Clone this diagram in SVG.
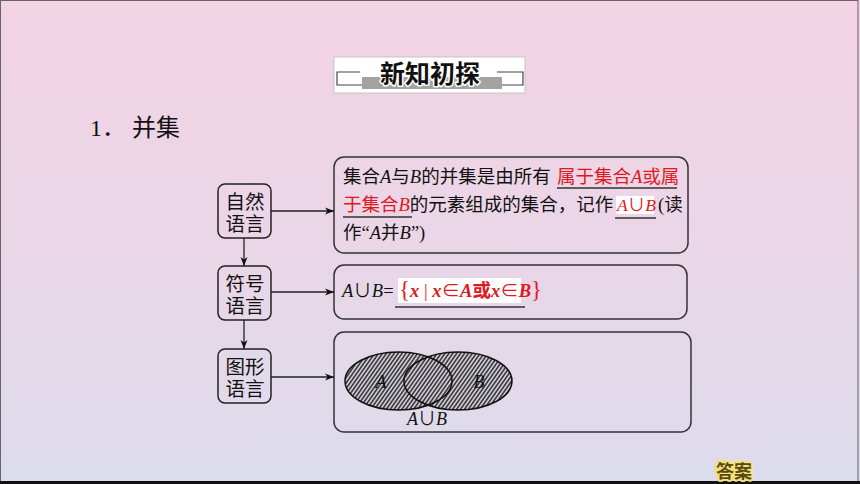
<svg xmlns="http://www.w3.org/2000/svg" width="860" height="484" viewBox="0 0 860 484">
<defs>
<linearGradient id="bg" x1="0" y1="0" x2="0" y2="1">
<stop offset="0" stop-color="#f3d3e4"/>
<stop offset="0.5" stop-color="#ead6e7"/>
<stop offset="1" stop-color="#dcdcec"/>
</linearGradient>
<pattern id="hatch" width="3.2" height="3.2" patternUnits="userSpaceOnUse" patternTransform="rotate(35)">
<rect width="3.2" height="3.2" fill="#cdc9d2"/>
<line x1="0.8" y1="0" x2="0.8" y2="3.2" stroke="#1e1e1e" stroke-width="1.3"/>
</pattern>
<marker id="arr" markerWidth="10" markerHeight="8" refX="9" refY="4" orient="auto" markerUnits="userSpaceOnUse">
<path d="M0,0.5 L9,4 L0,7.5 L2.5,4 Z" fill="#111"/>
</marker>
<style>
.cjk{font-family:"Noto Sans CJK SC","Noto Sans",sans-serif;}
.ser{font-family:"Liberation Serif","Noto Sans CJK SC",serif;}
.it{font-family:"Liberation Serif",serif;font-style:italic;}
.lnode{fill:none;stroke:#222;stroke-width:1.5;}
.rnode{fill:none;stroke:#333;stroke-width:1.5;}
.conn{stroke:#222;stroke-width:1.3;fill:none;marker-end:url(#arr);}
.ul{stroke:#333;stroke-width:1.3;}
.lbl{font-size:19.5px;fill:#111;text-anchor:middle;}
.body{font-size:18.5px;fill:#111;}
.red{fill:#e01820;}
</style>
</defs>
<rect x="0" y="0" width="860" height="484" fill="url(#bg)"/>
<rect x="0.5" y="0.5" width="857.5" height="481" fill="none" stroke="#666" stroke-width="1"/>
<rect x="0" y="481" width="860" height="3" fill="#111"/>

<g id="header">
<rect x="334" y="57" width="191" height="36" fill="#ffffff" stroke="#bbb" stroke-width="0.8"/>
<rect x="362" y="77" width="140" height="12" fill="#a3a3a3"/>
<path d="M360,72 H337 V85 H362" fill="none" stroke="#444" stroke-width="1.2"/>
<path d="M497,72 H523 V85 H502" fill="none" stroke="#444" stroke-width="1.2"/>
<text x="430" y="83" class="cjk" font-size="25" font-weight="bold" text-anchor="middle" fill="#111" stroke="#fff" stroke-width="3" paint-order="stroke" stroke-linejoin="round">新知初探</text>
</g>

<g id="title">
<text y="136" font-size="24" fill="#111"><tspan x="90" class="ser">1</tspan><tspan class="cjk">．</tspan><tspan x="132" class="cjk">并集</tspan></text>
</g>

<g id="node-natural">
<rect x="218" y="184" width="53" height="54" rx="7" class="lnode"/>
<text class="cjk lbl" x="245" y="209">自然</text>
<text class="cjk lbl" x="245" y="231">语言</text>
</g>
<g id="node-symbol">
<rect x="218" y="266" width="53" height="54" rx="7" class="lnode"/>
<text class="cjk lbl" x="245" y="291">符号</text>
<text class="cjk lbl" x="245" y="313">语言</text>
</g>
<g id="node-graphic">
<rect x="218" y="349" width="53" height="54" rx="7" class="lnode"/>
<text class="cjk lbl" x="245" y="374">图形</text>
<text class="cjk lbl" x="245" y="396">语言</text>
</g>

<g id="box-natural">
<rect x="334" y="157" width="354" height="96" rx="10" class="rnode"/>
<text class="body" y="183"><tspan x="343" class="cjk">集合</tspan><tspan class="it">A</tspan><tspan class="cjk">与</tspan><tspan class="it">B</tspan><tspan class="cjk">的并集是由所有</tspan><tspan x="557" class="cjk red">属于集合</tspan><tspan class="it red">A</tspan><tspan class="cjk red">或属</tspan></text>
<line x1="557" y1="188" x2="677" y2="188" class="ul"/>
<rect x="616" y="196" width="38" height="18" fill="#fff"/>
<text class="body" y="211"><tspan x="343" class="cjk red">于集合</tspan><tspan class="it red">B</tspan><tspan class="cjk">的元素组成的集合，记作</tspan><tspan x="617" class="it red" font-size="17.5">A</tspan><tspan class="ser red" font-size="17.5">∪</tspan><tspan class="it red" font-size="17.5">B</tspan><tspan x="658" class="ser">(</tspan><tspan class="cjk">读</tspan></text>
<line x1="343" y1="217" x2="412" y2="217" class="ul"/>
<line x1="615" y1="218" x2="656" y2="218" class="ul"/>
<text class="body" y="239"><tspan x="343" class="cjk">作</tspan><tspan class="ser">“</tspan><tspan class="it">A</tspan><tspan class="cjk">并</tspan><tspan class="it">B</tspan><tspan class="ser">”)</tspan></text>
</g>

<g id="box-symbol">
<rect x="334" y="265" width="353" height="54" rx="10" class="rnode"/>
<text class="body" y="297"><tspan x="342" class="it">A</tspan><tspan class="ser">∪</tspan><tspan class="it">B</tspan><tspan class="ser">=</tspan></text>
<rect x="398" y="278" width="123" height="25" fill="#fff"/>
<text class="body red" y="297"><tspan x="399" class="ser red" font-size="23">{</tspan><tspan class="it red" font-weight="bold">x</tspan><tspan class="ser red"> | </tspan><tspan class="it red" font-weight="bold">x</tspan><tspan class="ser red">∈</tspan><tspan class="it red" font-weight="bold">A</tspan><tspan class="cjk red" font-weight="bold">或</tspan><tspan class="it red" font-weight="bold">x</tspan><tspan class="ser red">∈</tspan><tspan class="it red" font-weight="bold">B</tspan><tspan class="ser red" font-size="23">}</tspan></text>
<line x1="395" y1="307" x2="525" y2="307" class="ul"/>
</g>

<g id="box-graphic">
<rect x="334" y="332" width="357" height="100" rx="10" class="rnode"/>
<ellipse cx="398.5" cy="381" rx="53.5" ry="29" fill="url(#hatch)"/>
<ellipse cx="458" cy="381" rx="54" ry="29" fill="url(#hatch)"/>
<ellipse cx="398.5" cy="381" rx="53.5" ry="29" fill="none" stroke="#111" stroke-width="1.5"/>
<ellipse cx="458" cy="381" rx="54" ry="29" fill="none" stroke="#111" stroke-width="1.5"/>
<text class="it" x="381" y="388" font-size="18" text-anchor="middle" fill="#111">A</text>
<text class="it" x="479" y="388" font-size="18" text-anchor="middle" fill="#111">B</text>
<text x="427" y="425" font-size="18" text-anchor="middle" fill="#111"><tspan class="it">A</tspan><tspan class="ser">∪</tspan><tspan class="it">B</tspan></text>
</g>

<g id="connectors">
<line x1="271" y1="211" x2="334" y2="211" class="conn"/>
<line x1="271" y1="292" x2="334" y2="292" class="conn"/>
<line x1="271" y1="377" x2="334" y2="377" class="conn"/>
<line x1="244" y1="238" x2="244" y2="266" class="conn"/>
<line x1="244" y1="320" x2="244" y2="349" class="conn"/>
</g>

<g id="answer-button">
<text x="734" y="478" class="cjk" font-size="18" font-weight="bold" text-anchor="middle" fill="#5a4812" stroke="#f4e27c" stroke-width="4" paint-order="stroke" stroke-linejoin="round">答案</text>
</g>
</svg>
